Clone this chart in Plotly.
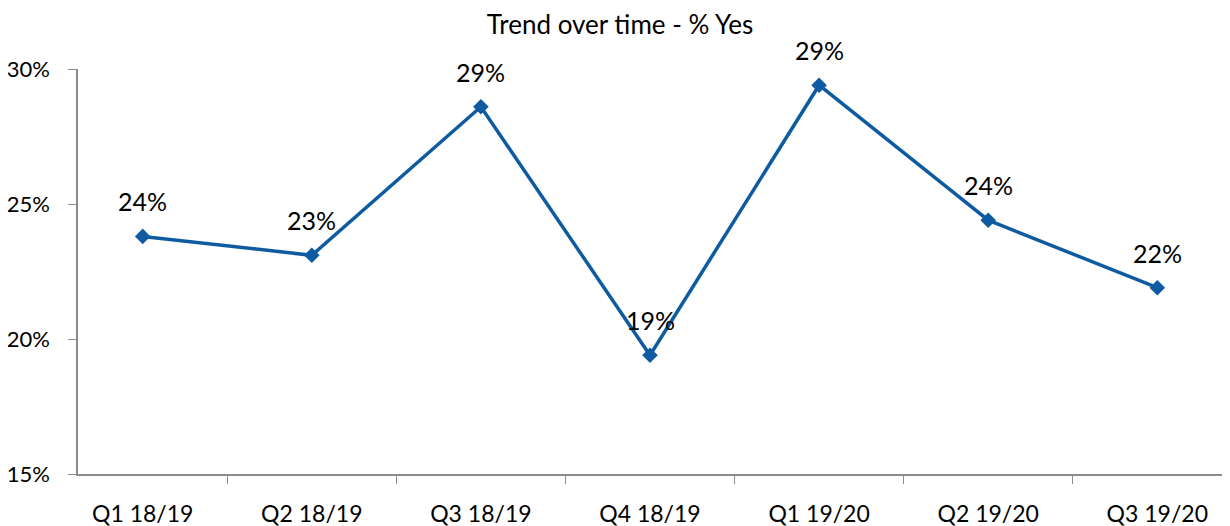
import plotly.graph_objects as go

# quarters and share of "Yes" answers
quarters = ["Q1 18/19", "Q2 18/19", "Q3 18/19", "Q4 18/19", "Q1 19/20", "Q2 19/20", "Q3 19/20"]
pct_yes = [0.238, 0.231, 0.286, 0.194, 0.294, 0.244, 0.219]
y_ticks = [0.15, 0.20, 0.25, 0.30]

line_col = "#0F5BA1"
axis_col = "#8C8C8C"
font_fam = "Lato, 'Open Sans', sans-serif"

fig = go.Figure(
    go.Scatter(
        x=quarters,
        y=pct_yes,
        mode="lines+markers",
        line=dict(color=line_col, width=3.5),
        marker=dict(symbol="diamond", size=12, color=line_col),
        hoverinfo="x+y",
    )
)

# data labels sit well above each point, like the original chart
for q, v in zip(quarters, pct_yes):
    fig.add_annotation(
        x=q, y=v, text=f"{round(v * 100)}%", showarrow=False,
        yshift=35, font=dict(size=25, color="#000000", family=font_fam),
    )

# note: the page adds an 8px body margin, so margins are shifted by 8
fig.update_layout(
    title=dict(text="Trend over time - % Yes", x=0.4976, xanchor="center",
               y=0.986, yanchor="top",
               font=dict(size=26, color="#000000", family=font_fam)),
    width=1230, height=526,
    margin=dict(l=70, r=16, t=61, b=60),
    plot_bgcolor="white", paper_bgcolor="white",
    showlegend=False,
    font=dict(family=font_fam, color="#000000"),
)
fig.update_xaxes(
    showline=True, linecolor=axis_col, linewidth=1.5,
    ticks="outside", tickson="boundaries", ticklen=8, tickcolor=axis_col,
    showgrid=False, tickfont=dict(size=23), ticklabelstandoff=19,
    automargin=False,
)
fig.update_yaxes(
    range=[0.15, 0.30], tickvals=y_ticks, tickformat=".0%",
    showline=True, linecolor=axis_col, linewidth=1.5,
    ticks="outside", ticklen=8, tickcolor=axis_col,
    showgrid=False, zeroline=False, tickfont=dict(size=22), ticklabelstandoff=14,
    automargin=False,
)

fig.write_html("out.html")
